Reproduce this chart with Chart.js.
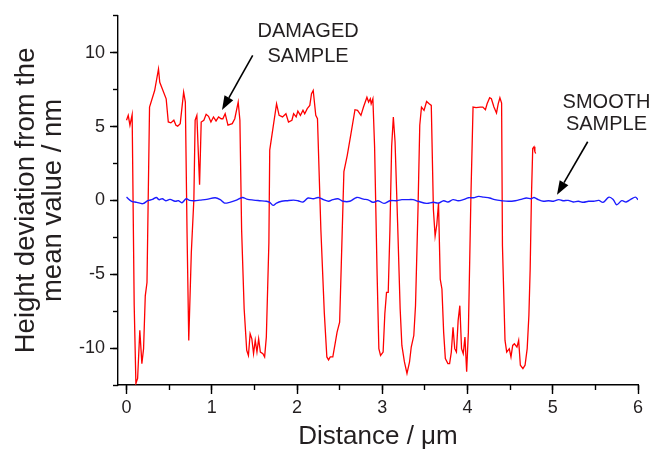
<!DOCTYPE html>
<html><head><meta charset="utf-8">
<script src="https://cdn.jsdelivr.net/npm/chart.js@4.4.0/dist/chart.umd.min.js"></script>
<style>html,body{margin:0;padding:0;background:#fff;}#wrap{width:655px;height:450px;}</style>
</head><body><div id="wrap"><canvas id="c" width="655" height="450"></canvas></div>
<script>
// ---- data ----
const damagedX = [0.00,0.02,0.04,0.066,0.09,0.11,0.13,0.156,0.18,0.20,0.22,0.24,0.27,0.33,0.375,0.39,0.465,0.49,0.52,0.555,0.58,0.60,0.63,0.67,0.69,0.71,0.73,0.76,0.79,0.805,0.825,0.857,0.876,0.907,0.934,0.962,0.99,1.02,1.05,1.08,1.11,1.13,1.157,1.19,1.24,1.27,1.31,1.33,1.35,1.38,1.41,1.43,1.45,1.47,1.49,1.51,1.53,1.55,1.57,1.60,1.62,1.64,1.67,1.68,1.72,1.76,1.79,1.83,1.87,1.90,1.94,1.96,1.99,2.01,2.04,2.07,2.09,2.12,2.15,2.17,2.19,2.22,2.24,2.28,2.32,2.35,2.37,2.39,2.42,2.45,2.47,2.50,2.52,2.55,2.59,2.63,2.68,2.71,2.75,2.78,2.82,2.84,2.86,2.87,2.89,2.91,2.94,2.96,2.98,3.01,3.03,3.05,3.07,3.09,3.11,3.13,3.15,3.18,3.21,3.23,3.26,3.29,3.32,3.34,3.37,3.39,3.42,3.44,3.46,3.49,3.52,3.55,3.575,3.60,3.62,3.64,3.66,3.68,3.70,3.72,3.74,3.77,3.79,3.81,3.83,3.85,3.87,3.89,3.91,3.93,3.95,3.97,3.99,4.01,4.04,4.065,4.10,4.15,4.18,4.21,4.23,4.26,4.28,4.31,4.34,4.36,4.38,4.40,4.41,4.44,4.46,4.49,4.51,4.53,4.55,4.58,4.60,4.62,4.65,4.675,4.70,4.72,4.735,4.75,4.765,4.78,4.79,4.80];
const damagedY = [5.43,5.76,5.09,5.80,-7.1,-12.4,-12.06,-8.8,-11.05,-10.04,-6.46,-5.56,6.32,7.44,8.9,8.0,6.88,5.31,5.25,5.43,5.09,5.02,5.20,7.33,6.66,-2.2,-9.48,-3.54,0.07,5.43,5.76,1.06,5.31,5.43,5.83,5.69,5.31,5.65,5.38,5.65,5.53,5.53,5.87,5.09,5.20,5.53,6.66,5.43,-1.97,-7.35,-10.15,-10.5,-9.03,-9.37,-10.38,-9.48,-10.27,-9.37,-10.27,-10.38,-10.6,-9.26,-2.87,3.41,4.98,6.54,5.76,5.65,5.87,5.31,5.43,5.87,5.65,6.05,5.76,6.10,5.87,6.21,6.43,7.22,7.44,5.76,5.53,-2.0,-7.6,-10.6,-10.8,-10.6,-10.6,-9.6,-8.92,-8.25,-4.2,1.95,3.07,4.42,6.14,6.10,5.76,6.32,6.99,6.66,6.88,6.54,6.88,3.63,-5.11,-10.04,-10.5,-10.27,-7.69,-6.23,-6.23,-1.97,3.63,5.65,3.97,-1.52,-7.35,-9.82,-10.94,-11.72,-10.94,-9.93,-9.15,-7.13,-0.4,5.09,6.32,6.10,6.70,6.54,6.43,-0.63,-2.42,-1.63,-0.18,-5.33,-6.0,-8.92,-10.71,-11.05,-11.05,-10.27,-8.59,-10.04,-10.27,-8.14,-7.13,-10.04,-10.38,-9.26,-11.6,-8.92,0.27,6.32,6.28,6.32,6.32,6.14,6.54,6.95,6.88,6.32,5.92,6.54,6.95,6.59,-3.09,-9.48,-10.27,-10.04,-10.6,-9.82,-9.71,-9.93,-9.48,-11.16,-11.39,-11.16,-10.04,-7.8,-4.66,0.27,3.52,3.63,3.30,3.18];

const smoothX = [0.00,0.06,0.12,0.19,0.25,0.305,0.35,0.38,0.42,0.46,0.51,0.57,0.61,0.65,0.70,0.74,0.80,0.86,0.94,1.04,1.10,1.15,1.21,1.29,1.36,1.41,1.49,1.56,1.64,1.68,1.72,1.76,1.82,1.88,1.96,2.01,2.07,2.13,2.19,2.25,2.31,2.37,2.42,2.48,2.54,2.62,2.70,2.78,2.84,2.89,2.95,3.02,3.09,3.17,3.23,3.29,3.36,3.42,3.52,3.60,3.66,3.72,3.77,3.83,3.89,3.95,4.01,4.07,4.13,4.19,4.26,4.32,4.40,4.48,4.56,4.64,4.69,4.75,4.78,4.83,4.89,4.95,5.01,5.07,5.12,5.18,5.24,5.30,5.36,5.42,5.48,5.54,5.59,5.66,5.71,5.75,5.81,5.86,5.91,5.97,6.00];
const smoothY = [0.22,-0.06,-0.13,-0.22,-0.02,0.07,0.20,0.05,0.11,-0.02,0.07,-0.06,-0.02,-0.16,0.11,0.00,-0.02,0.02,0.07,0.18,0.05,-0.18,-0.13,0.02,0.20,0.09,0.02,-0.02,-0.06,-0.13,-0.34,-0.18,-0.06,-0.02,0.02,-0.02,-0.11,0.16,0.11,0.20,0.05,-0.06,0.05,0.11,-0.06,-0.06,0.20,0.09,0.02,-0.13,-0.02,-0.20,-0.02,-0.02,0.05,0.05,0.05,-0.06,-0.20,-0.13,-0.18,-0.02,-0.11,0.05,-0.02,0.05,0.18,0.18,0.27,0.22,0.16,0.05,-0.02,-0.06,-0.02,0.09,0.16,0.11,0.20,0.05,-0.06,-0.02,-0.06,0.05,-0.02,0.00,-0.11,-0.06,-0.13,-0.06,-0.06,0.00,-0.13,0.22,0.05,-0.29,-0.02,-0.11,0.05,0.22,0.05];

const xTicks = [0,1,2,3,4,5,6];
const xMinorTicks = [0,0.5,1,1.5,2,2.5,3,3.5,4,4.5,5,5.5,6];
const yTicks = [-10,-5,0,5,10];
const yMinorTicks = [-12.5,-10,-7.5,-5,-2.5,0,2.5,5,7.5,10,12.5];

const xTitle = 'Distance / \u03bcm';
const yTitle = ['Height deviation from the', 'mean value / nm'];

// annotation texts with anchor (data units) and arrows (tail -> tip, data units)
const noteTexts = [
  {lines: ['DAMAGED', 'SAMPLE'], x: 2.13, y: [11.43, 9.75]},
  {lines: ['SMOOTH', 'SAMPLE'], x: 5.63, y: [6.66, 5.11]}
];
const noteArrows = [
  {from: [1.48, 9.82], to: [1.12, 6.12]},
  {from: [5.41, 3.97], to: [5.05, 0.38]}
];

const FONT = "'Liberation Sans', Arial, Helvetica, sans-serif";
const TXT = '#231f20';

const toPts = (xs, ys) => xs.map((x, i) => ({x: x, y: ys[i]}));

const notesPlugin = {
  id: 'notes',
  afterDraw(chart) {
    const ctx = chart.ctx, sx = chart.scales.x, sy = chart.scales.y;
    ctx.save();
    ctx.fillStyle = TXT;
    ctx.font = '20px ' + FONT;
    ctx.textAlign = 'center';
    ctx.textBaseline = 'middle';
    noteTexts.forEach(n => {
      n.lines.forEach((t, i) => ctx.fillText(t, sx.getPixelForValue(n.x), sy.getPixelForValue(n.y[i])));
    });
    ctx.strokeStyle = '#000';
    ctx.fillStyle = '#000';
    ctx.lineWidth = 1.6;
    noteArrows.forEach(a => {
      const x1 = sx.getPixelForValue(a.from[0]), y1 = sy.getPixelForValue(a.from[1]);
      const x2 = sx.getPixelForValue(a.to[0]), y2 = sy.getPixelForValue(a.to[1]);
      const ang = Math.atan2(y2 - y1, x2 - x1);
      const hl = 14, hw = 5;
      const bx = x2 - hl * Math.cos(ang), by = y2 - hl * Math.sin(ang);
      ctx.beginPath(); ctx.moveTo(x1, y1); ctx.lineTo(bx, by); ctx.stroke();
      ctx.beginPath();
      ctx.moveTo(x2, y2);
      ctx.lineTo(bx + hw * Math.sin(ang), by - hw * Math.cos(ang));
      ctx.lineTo(bx - hw * Math.sin(ang), by + hw * Math.cos(ang));
      ctx.closePath(); ctx.fill();
    });
    ctx.restore();
  }
};

const setTicks = arr => s => { s.ticks = arr.map(v => ({value: v})); };

new Chart(document.getElementById('c'), {
  type: 'line',
  data: {
    datasets: [
      {label: 'Smooth sample', data: toPts(smoothX, smoothY), borderColor: '#1c1cff', borderWidth: 1.4, pointRadius: 0, tension: 0.35, fill: false, xAxisID: 'x', yAxisID: 'y'},
      {label: 'Damaged sample', data: toPts(damagedX, damagedY), borderColor: '#ff0000', borderWidth: 1.3, pointRadius: 0, tension: 0, fill: false, xAxisID: 'x', yAxisID: 'y'}
    ]
  },
  options: {
    responsive: false,
    devicePixelRatio: 1,
    animation: false,
    layout: {padding: {left: 0, top: 13, right: 17, bottom: 0}},
    plugins: {legend: {display: false}, tooltip: {enabled: false}},
    scales: {
      x: {
        type: 'linear', position: 'bottom', min: -0.1, max: 6,
        afterFit: s => { s.height = 65; },
        afterBuildTicks: setTicks(xTicks),
        ticks: {font: {family: FONT, size: 18}, color: TXT, padding: 3, maxRotation: 0, autoSkip: false, callback: v => String(v)},
        grid: {drawOnChartArea: false, drawTicks: true, tickLength: 9, tickColor: '#000', tickWidth: 1.4},
        border: {display: true, color: '#000', width: 1.4},
        title: {display: true, text: xTitle, font: {family: FONT, size: 26, lineHeight: 1.0}, color: TXT, padding: {top: 0, bottom: 0}}
      },
      y: {
        type: 'linear', position: 'left', min: -12.5, max: 12.5,
        afterFit: s => { s.width = 118; },
        afterBuildTicks: setTicks(yTicks),
        ticks: {font: {family: FONT, size: 18}, color: TXT, padding: 5, autoSkip: false, callback: v => String(v)},
        grid: {drawOnChartArea: false, drawTicks: true, tickLength: 8, tickColor: '#000', tickWidth: 1.4},
        border: {display: true, color: '#000', width: 1.4},
        title: {display: true, text: yTitle, font: {family: FONT, size: 27.5, lineHeight: 0.98}, color: TXT, padding: {top: 13, bottom: 0}}
      },
      xMinor: {
        type: 'linear', axis: 'x', position: {y: -12.5}, min: -0.1, max: 6,
        afterBuildTicks: setTicks(xMinorTicks),
        ticks: {display: false},
        grid: {drawOnChartArea: false, drawTicks: true, tickLength: 5, tickColor: '#000', tickWidth: 1.4},
        border: {display: false}
      },
      yMinor: {
        type: 'linear', axis: 'y', position: {x: -0.1}, min: -12.5, max: 12.5,
        afterBuildTicks: setTicks(yMinorTicks),
        ticks: {display: false},
        grid: {drawOnChartArea: false, drawTicks: true, tickLength: 5, tickColor: '#000', tickWidth: 1.4},
        border: {display: false}
      }
    }
  },
  plugins: [notesPlugin]
});
</script>
</body></html>
